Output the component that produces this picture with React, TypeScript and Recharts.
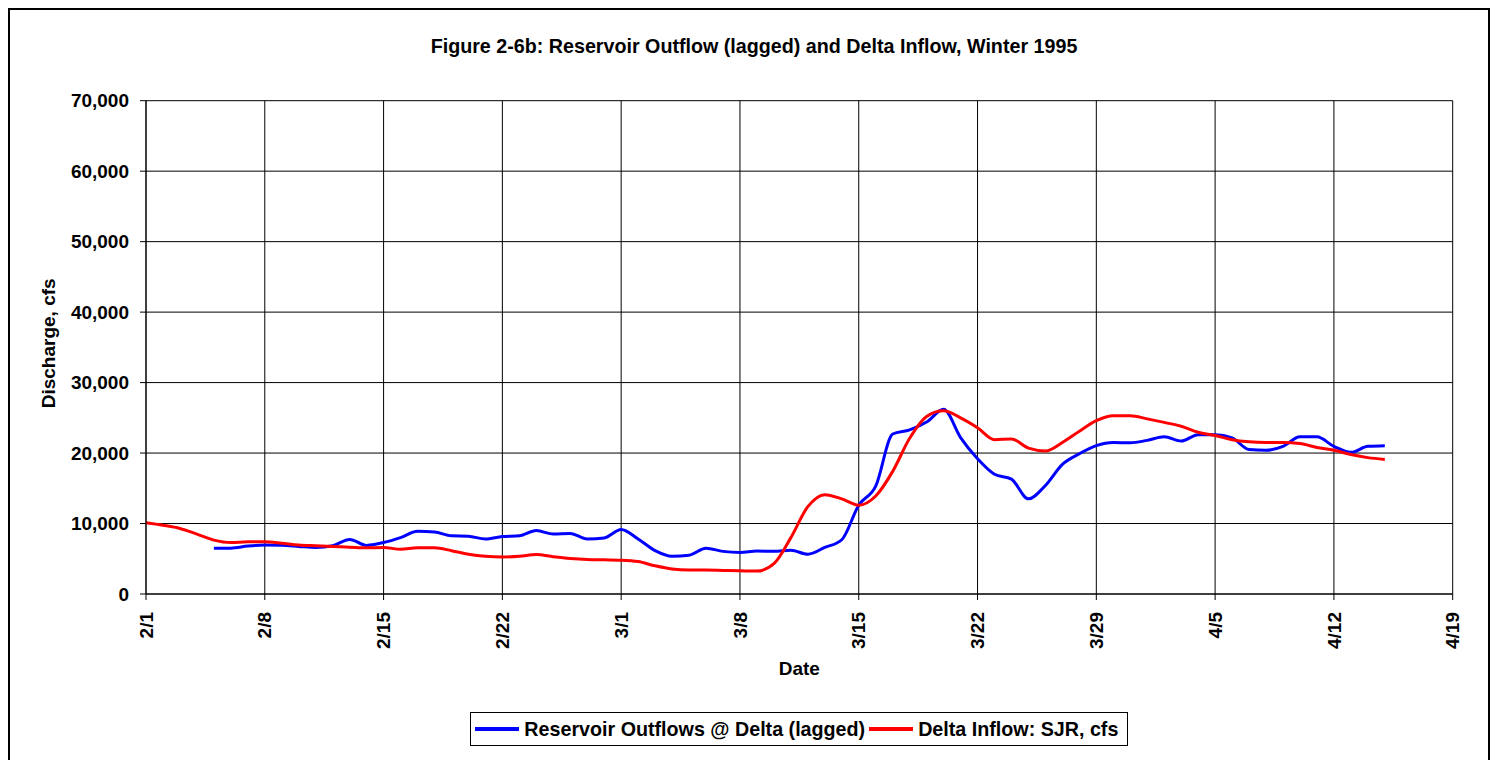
import React from 'react';
import { LineChart, Line, XAxis, YAxis, CartesianGrid, Legend, Label } from 'recharts';

const FONT = '"Liberation Sans", Arial, Helvetica, sans-serif';

// day offsets from 2/1/1995
const xTickDays = [0, 7, 14, 21, 28, 35, 42, 49, 56, 63, 70, 77];
const xTickLabels = ['2/1', '2/8', '2/15', '2/22', '3/1', '3/8', '3/15', '3/22', '3/29', '4/5', '4/12', '4/19'];
const yTicks = [0, 10000, 20000, 30000, 40000, 50000, 60000, 70000];

const seriesNames = ['Reservoir Outflows @ Delta (lagged)', 'Delta Inflow: SJR, cfs'];

// Delta Inflow: SJR, cfs — daily, starting day 0 (2/1)
const inflowStartDay = 0;
const inflow = [
  10100, 9750, 9300, 8500, 7650, 7300, 7400, 7400, 7200, 6950,
  6850, 6750, 6650, 6550, 6600, 6350, 6550, 6550, 6150, 5650,
  5350, 5250, 5350, 5600, 5300, 5050, 4900, 4850, 4800, 4600,
  4000, 3550, 3400, 3400, 3350, 3300, 3250, 4300, 8000, 12400,
  14100, 13500, 12600, 13900, 17400, 22100, 25200, 26000, 25000, 23600,
  21900, 22000, 20700, 20300, 21500, 23100, 24600, 25300, 25300, 24850,
  24350, 23800, 22950, 22500, 21900, 21600, 21500, 21500, 21350, 20800,
  20400, 19800, 19350, 19100,
];

// Reservoir Outflows @ Delta (lagged) — daily, starting day 4 (2/5)
const outflowStartDay = 4;
const outflow = [
  6500, 6500, 6800, 6950, 6900, 6750, 6600, 6850, 7750, 6900,
  7300, 8000, 8900, 8800, 8250, 8200, 7800, 8150, 8250, 9000,
  8500, 8600, 7800, 7950, 9150, 7800, 6150, 5350, 5500, 6500,
  6050, 5900, 6100, 6050, 6200, 5650, 6600, 7700, 12600, 15300,
  22700, 23300, 24400, 26200, 22200, 19200, 17000, 16300, 13500, 15400,
  18400, 19900, 21050, 21500, 21450, 21800, 22300, 21700, 22600, 22600,
  22150, 20500, 20400, 20950, 22300, 22300, 20950, 20100, 20950, 21050,
];

const lastDay = 77;
const data = Array.from({ length: lastDay + 1 }, (_, d) => {
  const i = d - inflowStartDay;
  const o = d - outflowStartDay;
  return {
    day: d,
    inflow: i >= 0 && i < inflow.length ? inflow[i] : null,
    outflow: o >= 0 && o < outflow.length ? outflow[o] : null,
  };
});

const XTick = (props: any) => {
  const { x, y, payload } = props;
  const idx = xTickDays.indexOf(payload.value);
  return (
    <g transform={`translate(${x},${y})`}>
      <text
        transform="rotate(-90)"
        x={-10}
        y={0}
        dy="0.35em"
        textAnchor="end"
        fontSize={19}
        fontWeight="bold"
        fill="#000"
        fontFamily={FONT}
      >
        {idx >= 0 ? xTickLabels[idx] : ''}
      </text>
    </g>
  );
};

const YLabel = (props: any) => {
  const vb = props.viewBox || { x: 0, y: 0, width: 0, height: 0 };
  const cx = vb.x - 11;
  const cy = vb.y + vb.height / 2 - 4;
  return (
    <text
      x={cx}
      y={cy}
      transform={`rotate(-90, ${cx}, ${cy})`}
      textAnchor="middle"
      fontSize={19}
      fontWeight="bold"
      fill="#000"
      fontFamily={FONT}
    >
      Discharge, cfs
    </text>
  );
};

const XLabel = (props: any) => {
  const vb = props.viewBox || { x: 0, y: 0, width: 0, height: 0 };
  return (
    <text
      x={vb.x + vb.width / 2}
      y={667}
      textAnchor="middle"
      fontSize={19}
      fontWeight="bold"
      fill="#000"
      fontFamily={FONT}
    >
      Date
    </text>
  );
};

const renderLegend = (props: any) => {
  const payload = [...(props.payload || [])].sort(
    (a: any, b: any) => seriesNames.indexOf(a.value) - seriesNames.indexOf(b.value)
  );
  return (
    <div style={{ display: 'flex', justifyContent: 'center' }}>
      <div
        style={{
          display: 'inline-flex',
          alignItems: 'center',
          border: '1px solid #000',
          height: 32,
          padding: '0 9px 0 4px',
          fontFamily: FONT,
          fontWeight: 'bold',
          fontSize: 19.7,
          color: '#000',
          background: '#fff',
          whiteSpace: 'nowrap',
        }}
      >
        {payload.map((p: any, i: number) => (
          <span key={i} style={{ display: 'inline-flex', alignItems: 'center', marginRight: i === 0 ? 4 : 0 }}>
            <span style={{ display: 'inline-block', width: 44, height: 4, background: p.color, marginRight: 5 }} />
            {p.value}
          </span>
        ))}
      </div>
    </div>
  );
};

export default function App() {
  return (
    <div style={{ position: 'relative', width: 1482, height: 752, background: '#fff' }}>
      <div
        style={{
          position: 'absolute',
          top: 29,
          left: 346,
          width: 800,
          textAlign: 'center',
          fontFamily: FONT,
          fontWeight: 'bold',
          fontSize: 19.7,
          lineHeight: '19px',
          color: '#000',
          whiteSpace: 'nowrap',
        }}
      >
        Figure 2-6b: Reservoir Outflow (lagged) and Delta Inflow, Winter 1995
      </div>
      <LineChart
        width={1482}
        height={760}
        data={data}
        margin={{ top: 92.7, right: 37.3, bottom: 114, left: 58 }}
      >
        <CartesianGrid stroke="#000" strokeWidth={1} vertical={true} horizontal={true} />
        <XAxis
          dataKey="day"
          type="number"
          domain={[0, lastDay]}
          ticks={xTickDays}
          interval={0}
          height={60}
          tick={<XTick />}
          tickSize={6}
          axisLine={{ stroke: '#000' }}
          tickLine={{ stroke: '#000' }}
          allowDataOverflow
        >
          <Label content={<XLabel />} />
        </XAxis>
        <YAxis
          type="number"
          domain={[0, 70000]}
          ticks={yTicks}
          interval={0}
          width={80}
          tickSize={6}
          tickMargin={11}
          tickFormatter={(v: number) => v.toLocaleString('en-US')}
          tick={{ fontSize: 19, fontWeight: 'bold', fill: '#000', fontFamily: FONT }}
          axisLine={{ stroke: '#000' }}
          tickLine={{ stroke: '#000' }}
        >
          <Label content={<YLabel />} />
        </YAxis>
        <Legend
          layout="horizontal"
          verticalAlign="middle"
          align="center"
          content={renderLegend}
          wrapperStyle={{ top: 704, left: 138, width: 1306.7, height: 34 }}
        />
        <Line
          type="monotone"
          dataKey="outflow"
          name="Reservoir Outflows @ Delta (lagged)"
          stroke="#0000FF"
          strokeWidth={3}
          dot={false}
          activeDot={false}
          isAnimationActive={false}
          connectNulls={false}
        />
        <Line
          type="monotone"
          dataKey="inflow"
          name="Delta Inflow: SJR, cfs"
          stroke="#FF0000"
          strokeWidth={3}
          dot={false}
          activeDot={false}
          isAnimationActive={false}
          connectNulls={false}
        />
      </LineChart>
      <div
        style={{
          position: 'absolute',
          left: 0,
          top: 0,
          width: 1482,
          height: 800,
          border: '2px solid #000',
          boxSizing: 'border-box',
          pointerEvents: 'none',
        }}
      />
    </div>
  );
}
